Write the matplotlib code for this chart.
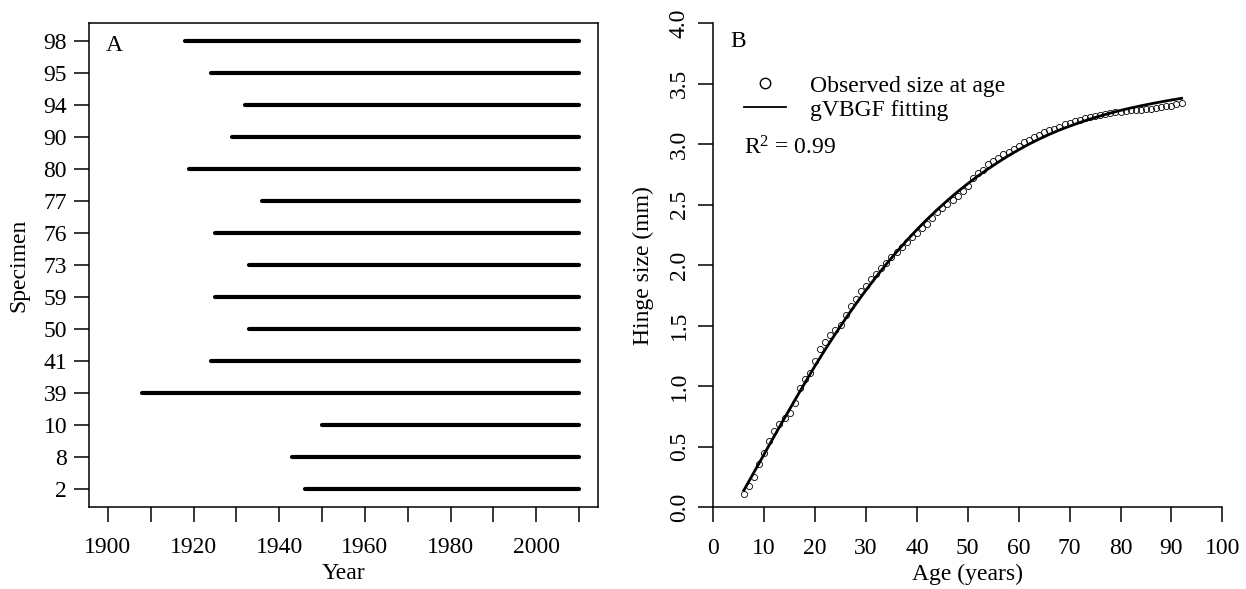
import numpy as np
import matplotlib.pyplot as plt
from matplotlib.lines import Line2D

plt.rcParams['font.family'] = ['Liberation Serif', 'DejaVu Serif']
plt.rcParams['mathtext.fontset'] = 'custom'
plt.rcParams['mathtext.rm'] = 'Liberation Serif'
plt.rcParams['mathtext.it'] = 'Liberation Serif:italic'

# panel A: years covered by each specimen's growth record
specimens = ['2', '8', '10', '39', '41', '50', '59', '73', '76', '77', '80', '90', '94', '95', '98']
start_year = [1946, 1943, 1950, 1908, 1924, 1933, 1925, 1933, 1925, 1936, 1919, 1929, 1932, 1924, 1918]
end_year = [2010] * 15

# panel B: mean hinge size at age and the gVBGF curve
obs_age = list(range(6, 93))
obs_size = [0.11, 0.18, 0.25, 0.36, 0.45, 0.55, 0.63, 0.69, 0.74, 0.78,
            0.86, 0.99, 1.06, 1.11, 1.21, 1.31, 1.37, 1.42, 1.465, 1.51,
            1.59, 1.66, 1.72, 1.79, 1.83, 1.89, 1.93, 1.975, 2.02, 2.07,
            2.11, 2.155, 2.195, 2.23, 2.27, 2.31, 2.34, 2.39, 2.44, 2.47,
            2.51, 2.54, 2.57, 2.61, 2.655, 2.72, 2.76, 2.79, 2.835, 2.865,
            2.89, 2.92, 2.935, 2.965, 2.99, 3.015, 3.035, 3.06, 3.08, 3.10,
            3.115, 3.13, 3.145, 3.165, 3.18, 3.19, 3.20, 3.215, 3.225, 3.235,
            3.24, 3.25, 3.255, 3.265, 3.27, 3.275, 3.28, 3.28, 3.285, 3.29,
            3.295, 3.30, 3.31, 3.315, 3.32, 3.33, 3.345]
fit_age = list(range(6, 93, 2))
fit_size = [0.14, 0.29, 0.44, 0.59, 0.738, 0.884, 1.028, 1.170, 1.305, 1.435,
            1.560, 1.680, 1.795, 1.905, 2.010, 2.110, 2.205, 2.295, 2.380, 2.460,
            2.536, 2.608, 2.675, 2.738, 2.797, 2.853, 2.906, 2.955, 3.001, 3.043,
            3.082, 3.118, 3.150, 3.180, 3.208, 3.234, 3.258, 3.280, 3.300, 3.318,
            3.335, 3.351, 3.366, 3.380]

W, H = 1246, 589
fig = plt.figure(figsize=(W / 100, H / 100), dpi=100)
ax1 = fig.add_axes([89 / W, 1 - 507 / H, (598 - 89) / W, (507 - 23) / H])
ax2 = fig.add_axes([713.3 / W, 1 - 507.3 / H, (1222.3 - 713.3) / W, (507.3 - 23.3) / H])

fs = 17
tick_kw = dict(direction='out', length=10.8, width=1.1, labelsize=fs, color='black')

# ---- A ----
ypos = np.arange(1, len(specimens) + 1)
ax1.hlines(ypos, start_year, end_year, colors='black', linewidth=3, capstyle='round')
ax1.set_xlim(1895.6, 2014.4)
ax1.set_ylim(0.44, 15.56)
ax1.set_yticks(ypos)
ax1.set_yticklabels(specimens)
xt = list(range(1900, 2011, 10))
ax1.set_xticks(xt)
ax1.set_xticklabels([str(v) if v % 20 == 0 and v < 2010 else '' for v in xt])
ax1.tick_params(axis='x', pad=11, **tick_kw)
ax1.tick_params(axis='y', pad=5, **tick_kw)
for s in ax1.spines.values():
    s.set_linewidth(1.1)
ax1.set_xlabel('Year', fontsize=fs, va='center')
ax1.xaxis.set_label_coords(0.5, -0.138)
ax1.set_ylabel('Specimen', fontsize=fs, va='center')
ax1.yaxis.set_label_coords(-0.1375, 0.5)
ax1.text(0.0334, 0.942, 'A', transform=ax1.transAxes, fontsize=fs, va='baseline', ha='left')

# ---- B ----
ax2.plot(obs_age, obs_size, 'o', mfc='none', mec='black', ms=4.4, mew=0.6, zorder=2)
ax2.plot(fit_age, fit_size, '-', color='black', linewidth=2, zorder=3)
ax2.set_xlim(0, 100)
ax2.set_ylim(0, 4)
ax2.set_xticks(range(0, 101, 10))
ax2.set_yticks(np.arange(0, 4.01, 0.5))
ax2.set_yticklabels(['%.1f' % v for v in np.arange(0, 4.01, 0.5)])
ax2.spines['top'].set_visible(False)
ax2.spines['right'].set_visible(False)
for s in ('left', 'bottom'):
    ax2.spines[s].set_linewidth(1.1)
ax2.tick_params(axis='x', pad=11, **tick_kw)
ax2.tick_params(axis='y', pad=6, labelrotation=90, **tick_kw)
for lab in ax2.get_yticklabels():
    lab.set_va('center')
ax2.set_xlabel('Age (years)', fontsize=fs, va='center')
ax2.xaxis.set_label_coords(0.5, -0.138)
ax2.set_ylabel('Hinge size (mm)', fontsize=fs, va='center')
ax2.yaxis.set_label_coords(-0.138, 0.5)
ax2.text(0.033, 0.951, 'B', transform=ax2.transAxes, fontsize=fs, va='baseline', ha='left')

handles = [Line2D([], [], linestyle='none', marker='o', mfc='none', mec='black', ms=7.5, mew=1.0),
           Line2D([], [], color='black', linewidth=1.3)]
ax2.legend(handles, ['Observed size at age', 'gVBGF fitting'], loc='upper left',
           bbox_to_anchor=(0.0603, 0.893), frameon=False, fontsize=fs,
           borderpad=0, borderaxespad=0, handlelength=1.78, handletextpad=1.0,
           labelspacing=0.1)
ax2.text(0.0603, 0.728, 'R$^2$ = 0.99', transform=ax2.transAxes, fontsize=fs,
         va='baseline', ha='left')

fig.savefig('out.png', dpi=100)
